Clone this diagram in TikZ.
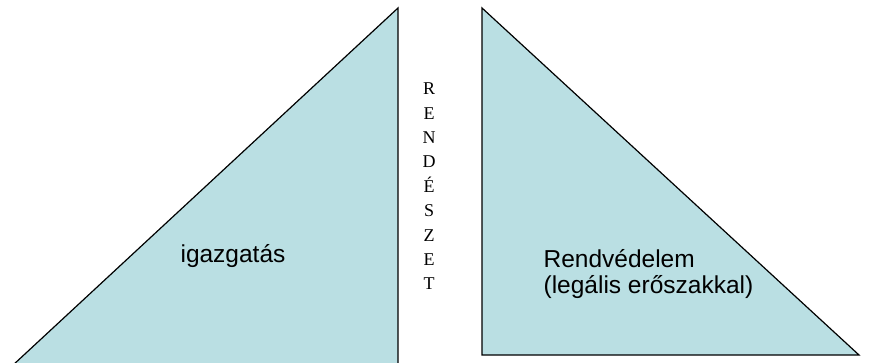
\documentclass[tikz,border=0pt]{standalone}
\usepackage{fontspec}
\setmainfont{Liberation Serif}
\setsansfont{Liberation Sans}
\definecolor{paleteal}{RGB}{186,223,227}

\begin{document}
\begin{tikzpicture}[x=1pt,y=-1pt,line width=1.2pt,
   wedge/.style={draw=black,fill=paleteal,line join=miter},
   label/.style={font=\sffamily\fontsize{24.5}{26}\selectfont,align=left,inner sep=0pt}]
   \useasboundingbox (0,0) rectangle (875,363);
   \draw[wedge] (398,8) -- (398,366) -- (12,366) -- cycle;
   \draw[wedge] (482,8) -- (482,355) -- (859,355) -- cycle;
   \node[label,anchor=base] (admin) at (233,262) {igazgatás};
   % base anchor of a multi-line node is the last line
   \node[label,anchor=base west] (force) at (543,294) {Rendvédelem\\(legális erőszakkal)};
   \node[font=\fontsize{18}{24.4}\selectfont,align=center,inner sep=0pt,anchor=base] (word) at (429,290)
     {R\\E\\N\\D\\É\\S\\Z\\E\\T};
\end{tikzpicture}
\end{document}
